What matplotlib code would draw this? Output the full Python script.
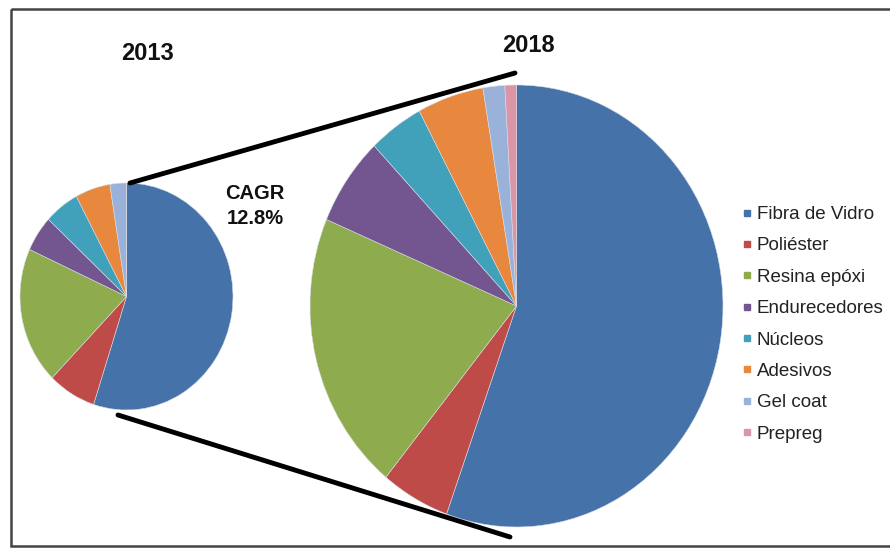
import matplotlib
matplotlib.use("Agg")
import matplotlib.pyplot as plt
from matplotlib.lines import Line2D
from matplotlib.patches import Rectangle

categories = ["Fibra de Vidro", "Poliéster", "Resina epóxi", "Endurecedores",
              "Núcleos", "Adesivos", "Gel coat", "Prepreg"]
share_2013 = [55.0, 7.3, 19.5, 5.1, 5.3, 5.3, 2.5, 0.0]
share_2018 = [55.5, 5.4, 20.5, 6.5, 4.3, 5.2, 1.7, 0.9]
colors = ["#4672AA", "#BE4B48", "#8EAC4E", "#73558F",
          "#41A0BA", "#E8873E", "#9AB2DA", "#DA95A6"]
year_labels = ["2013", "2018"]
cagr_label = "CAGR\n12.8%"

W, H = 890, 548
fig = plt.figure(figsize=(W / 100, H / 100), dpi=100)
fig.patch.set_facecolor("white")
plt.rcParams['font.family'] = ['Liberation Sans', 'DejaVu Sans']


def px_axes(x0, y0, x1, y1):
    return fig.add_axes([x0 / W, 1 - y1 / H, (x1 - x0) / W, (y1 - y0) / H])


# pies (slightly stretched vertically, as in the reference)
pie_boxes = [(20, 183, 233, 410), (310, 85, 723, 527)]
for box, vals in zip(pie_boxes, [share_2013, share_2018]):
    pax = px_axes(*box)
    pax.pie(vals, colors=colors, startangle=90, counterclock=False,
            radius=1.0, wedgeprops=dict(edgecolor="#d8dce4", linewidth=0.4))
    pax.set_xlim(-1, 1)
    pax.set_ylim(-1, 1)
    pax.set_aspect("auto")
    pax.axis("off")

# overlay in pixel coordinates
ov = fig.add_axes([0, 0, 1, 1], zorder=5)
ov.set_xlim(0, W)
ov.set_ylim(H, 0)
ov.axis("off")
ov.patch.set_alpha(0)

# connector lines
ov.plot([130, 515], [183, 73], color="black", lw=3.5, solid_capstyle="round")
ov.plot([118, 510], [415, 537], color="black", lw=3.5, solid_capstyle="round")

# frame
ov.add_patch(Rectangle((11, 9), 900, 537, fill=False, edgecolor="#444444",
                       lw=1.8, clip_on=False))

# texts
ov.text(148, 53, year_labels[0], ha="center", va="center", fontsize=17,
        fontweight="bold", color="#111111")
ov.text(528, 46, year_labels[1], ha="center", va="center", fontsize=17,
        fontweight="bold", color="#111111")
ov.text(255, 206, cagr_label, ha="center", va="center", fontsize=14.5,
        fontweight="bold", color="#111111", linespacing=1.35)

# legend
handles = [Line2D([0], [0], marker="s", linestyle="none", markersize=5,
                  markerfacecolor=c, markeredgecolor=c) for c in colors]
leg = fig.legend(handles, categories, loc="upper left",
                 bbox_to_anchor=(742 / W, 1 - 206 / H), frameon=False,
                 fontsize=13.5, handlelength=0.5, handletextpad=0.3,
                 labelspacing=0.76, borderpad=0, borderaxespad=0)
for t in leg.get_texts():
    t.set_color("#222222")

fig.savefig("out.png", dpi=100, facecolor="white")
